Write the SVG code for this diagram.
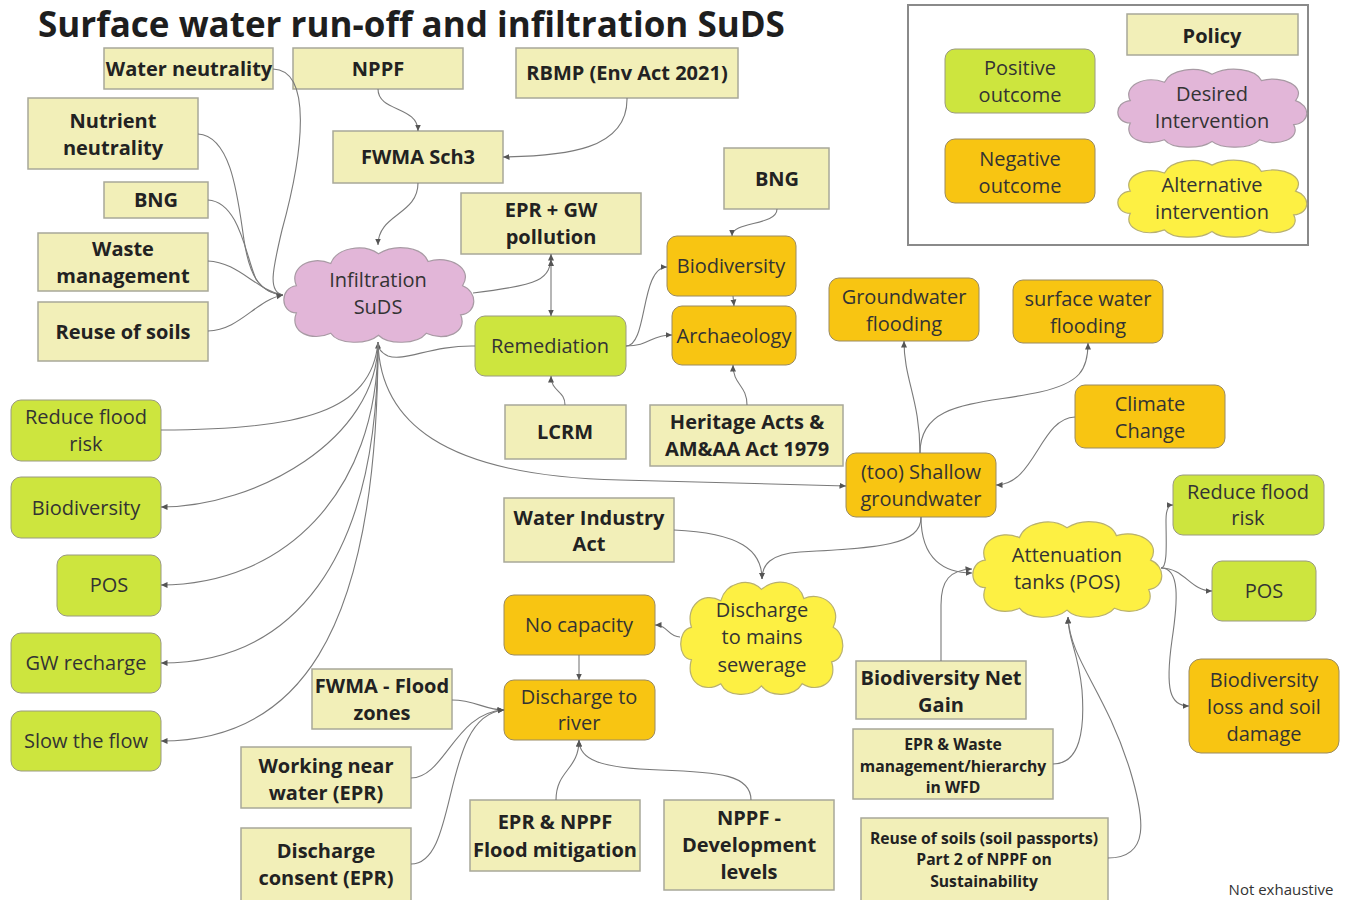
<svg xmlns="http://www.w3.org/2000/svg" xmlns:xlink="http://www.w3.org/1999/xlink" width="1348" height="900" viewBox="0 0 1348 900">
<style>
text{font-family:"Open Sans","Liberation Sans",sans-serif;text-anchor:middle;fill:#2b2b25}
.pol rect{fill:#f2efb8;stroke:#a8a899;stroke-width:1.5}
.pol text{font-weight:bold;font-size:20px;fill:#222}
.pol text.s{font-size:15.7px}
.pos rect{fill:#cde53e;stroke:#9a9a80;stroke-width:1}
.neg rect{fill:#f8c512;stroke:#9a8a60;stroke-width:1}
.pos text,.neg text,.cl text{font-size:20px;fill:#333}
.pink{fill:#e2b6d8;stroke:#a89aa4}
.yel{fill:#fdf043;stroke:#b8b070}
#edges path{fill:none;stroke:#7a7a7a;stroke-width:1.1}
.a{marker-end:url(#ah)}
</style>
<defs>
<marker id="ah" markerUnits="userSpaceOnUse" markerWidth="7" markerHeight="7" refX="6.5" refY="3.5" orient="auto"><path d="M0,0.5 L6.5,3.5 L0,6.5 z" fill="#555"/></marker>
<marker id="ahs" markerUnits="userSpaceOnUse" markerWidth="7" markerHeight="7" refX="0.5" refY="3.5" orient="auto"><path d="M6.5,0.5 L0,3.5 L6.5,6.5 z" fill="#555"/></marker>
<symbol id="cloud" viewBox="0 0 200 100" preserveAspectRatio="none" overflow="visible">
<path vector-effect="non-scaling-stroke" stroke-width="1.2" d="M14,70 C-3,70 -4,44 14,42 C6,24 28,10 50,19 C56,3 84,-2 100,9 C118,-2 146,2 152,17 C174,10 200,24 188,42 C204,48 204,70 186,72 C194,90 170,100 150,91 C140,103 110,103 100,93 C88,103 58,103 50,91 C30,100 6,90 14,70 Z"/>
</symbol>
</defs>
<rect width="1348" height="900" fill="#fff"/>
<text x="38" y="37" style="text-anchor:start;font-weight:bold;font-size:35px;fill:#1e1e1e">Surface water run-off and infiltration SuDS</text>

<g id="legend">
<rect x="908" y="5" width="400" height="240" fill="none" stroke="#8a8a8a" stroke-width="2"/>
<g class="pol"><rect x="1127" y="14" width="171" height="41"/><text x="1212" y="43">Policy</text></g>
<g class="pos"><rect x="945" y="49" width="150" height="64" rx="10"/><text x="1020" y="75">Positive</text><text x="1020" y="102">outcome</text></g>
<g class="neg"><rect x="945" y="139" width="150" height="64" rx="10"/><text x="1020" y="166">Negative</text><text x="1020" y="193">outcome</text></g>
<g class="cl"><use xlink:href="#cloud" x="1117" y="67" width="190" height="80" class="pink"/><text x="1212" y="101">Desired</text><text x="1212" y="128">Intervention</text></g>
<g class="cl"><use xlink:href="#cloud" x="1117" y="158" width="190" height="79" class="yel"/><text x="1212" y="192">Alternative</text><text x="1212" y="219">intervention</text></g>
</g>

<g id="n_water_neutrality" class="pol"><rect x="104" y="48" width="169" height="41"/><text x="189" y="76">Water neutrality</text></g>
<g id="n_nppf" class="pol"><rect x="293" y="48" width="170" height="41"/><text x="378" y="76">NPPF</text></g>
<g id="n_rbmp" class="pol"><rect x="516" y="48" width="222" height="50"/><text x="627" y="80">RBMP (Env Act 2021)</text></g>
<g id="n_nutrient" class="pol"><rect x="28" y="98" width="170" height="71"/><text x="113" y="128">Nutrient</text><text x="113" y="155">neutrality</text></g>
<g id="n_fwma_sch3" class="pol"><rect x="333" y="131" width="170" height="52"/><text x="418" y="164">FWMA Sch3</text></g>
<g id="n_bng1" class="pol"><rect x="104" y="182" width="104" height="36"/><text x="156" y="207">BNG</text></g>
<g id="n_waste" class="pol"><rect x="38" y="233" width="170" height="58"/><text x="123" y="256">Waste</text><text x="123" y="283">management</text></g>
<g id="n_reuse" class="pol"><rect x="38" y="302" width="170" height="59"/><text x="123" y="339">Reuse of soils</text></g>
<g id="n_infiltration" class="cl"><use xlink:href="#cloud" x="283" y="245" width="191" height="97" class="pink"/><text x="378" y="287">Infiltration</text><text x="378" y="314">SuDS</text></g>
<g id="n_epr_gw" class="pol"><rect x="461" y="193" width="180" height="61"/><text x="551" y="217">EPR + GW</text><text x="551" y="244">pollution</text></g>
<g id="n_bng2" class="pol"><rect x="724" y="148" width="105" height="61"/><text x="777" y="186">BNG</text></g>
<g id="n_biodiv_neg" class="neg"><rect x="667" y="236" width="129" height="60" rx="10"/><text x="731" y="273">Biodiversity</text></g>
<g id="n_archaeology" class="neg"><rect x="672" y="306" width="124" height="59" rx="10"/><text x="734" y="343">Archaeology</text></g>
<g id="n_remediation" class="pos"><rect x="475" y="316" width="151" height="60" rx="10"/><text x="550" y="353">Remediation</text></g>
<g id="n_lcrm" class="pol"><rect x="505" y="405" width="121" height="54"/><text x="565" y="439">LCRM</text></g>
<g id="n_heritage" class="pol"><rect x="650" y="405" width="193" height="61"/><text x="747" y="429">Heritage Acts &amp;</text><text x="747" y="456">AM&amp;AA Act 1979</text></g>
<g id="n_gw_flooding" class="neg"><rect x="829" y="278" width="150" height="63" rx="10"/><text x="904" y="304">Groundwater</text><text x="904" y="331">flooding</text></g>
<g id="n_sw_flooding" class="neg"><rect x="1013" y="280" width="150" height="63" rx="10"/><text x="1088" y="306">surface water</text><text x="1088" y="333">flooding</text></g>
<g id="n_climate" class="neg"><rect x="1075" y="385" width="150" height="63" rx="10"/><text x="1150" y="411">Climate</text><text x="1150" y="438">Change</text></g>
<g id="n_shallow" class="neg"><rect x="846" y="453" width="150" height="64" rx="10"/><text x="921" y="479">(too) Shallow</text><text x="921" y="506">groundwater</text></g>
<g id="n_reduce_r" class="pos"><rect x="1173" y="475" width="151" height="60" rx="10"/><text x="1248" y="499">Reduce flood</text><text x="1248" y="525">risk</text></g>
<g id="n_wia" class="pol"><rect x="504" y="498" width="170" height="64"/><text x="589" y="525">Water Industry</text><text x="589" y="551">Act</text></g>
<g id="n_mains" class="cl"><use xlink:href="#cloud" x="680" y="579" width="163" height="115" class="yel"/><text x="762" y="617">Discharge</text><text x="762" y="644">to mains</text><text x="762" y="672">sewerage</text></g>
<g id="n_nocap" class="neg"><rect x="504" y="595" width="151" height="60" rx="10"/><text x="579" y="632">No capacity</text></g>
<g id="n_river" class="neg"><rect x="504" y="680" width="151" height="60" rx="10"/><text x="579" y="704">Discharge to</text><text x="579" y="730">river</text></g>
<g id="n_atten" class="cl"><use xlink:href="#cloud" x="972" y="519" width="190" height="98" class="yel"/><text x="1067" y="562">Attenuation</text><text x="1067" y="589">tanks (POS)</text></g>
<g id="n_pos_r" class="pos"><rect x="1212" y="561" width="104" height="60" rx="10"/><text x="1264" y="598">POS</text></g>
<g id="n_bioloss" class="neg"><rect x="1189" y="659" width="150" height="94" rx="12"/><text x="1264" y="687">Biodiversity</text><text x="1264" y="714">loss and soil</text><text x="1264" y="741">damage</text></g>
<g id="n_bng_net" class="pol"><rect x="856" y="661" width="170" height="58"/><text x="941" y="685">Biodiversity Net</text><text x="941" y="712">Gain</text></g>
<g id="n_epr_waste" class="pol"><rect x="853" y="729" width="200" height="70"/><text class="s" x="953" y="750">EPR &amp; Waste</text><text class="s" x="953" y="772">management/hierarchy</text><text class="s" x="953" y="793">in WFD</text></g>
<g id="n_reuse_pass" class="pol"><rect x="861" y="818" width="247" height="86"/><text class="s" x="984" y="844">Reuse of soils (soil passports)</text><text class="s" x="984" y="865">Part 2 of NPPF on</text><text class="s" x="984" y="887">Sustainability</text></g>
<g id="n_fwma_flood" class="pol"><rect x="312" y="669" width="140" height="60"/><text x="382" y="693">FWMA - Flood</text><text x="382" y="720">zones</text></g>
<g id="n_working" class="pol"><rect x="241" y="747" width="170" height="61"/><text x="326" y="773">Working near</text><text x="326" y="800">water (EPR)</text></g>
<g id="n_consent" class="pol"><rect x="241" y="828" width="170" height="76"/><text x="326" y="858">Discharge</text><text x="326" y="885">consent (EPR)</text></g>
<g id="n_epr_nppf" class="pol"><rect x="470" y="800" width="170" height="71"/><text x="555" y="829">EPR &amp; NPPF</text><text x="555" y="857">Flood mitigation</text></g>
<g id="n_nppf_dev" class="pol"><rect x="664" y="800" width="170" height="90"/><text x="749" y="825">NPPF -</text><text x="749" y="852">Development</text><text x="749" y="879">levels</text></g>
<g id="n_reduce_l" class="pos"><rect x="11" y="400" width="150" height="61" rx="10"/><text x="86" y="424">Reduce flood</text><text x="86" y="451">risk</text></g>
<g id="n_biodiv_l" class="pos"><rect x="11" y="477" width="150" height="61" rx="10"/><text x="86" y="515">Biodiversity</text></g>
<g id="n_pos_l" class="pos"><rect x="57" y="555" width="104" height="61" rx="10"/><text x="109" y="592">POS</text></g>
<g id="n_gw_recharge" class="pos"><rect x="11" y="633" width="150" height="60" rx="10"/><text x="86" y="670">GW recharge</text></g>
<g id="n_slow" class="pos"><rect x="11" y="711" width="150" height="60" rx="10"/><text x="86" y="748">Slow the flow</text></g>

<text x="1281" y="895" style="font-size:15px;fill:#333">Not exhaustive</text>

<g id="edges">
<path d="M273,69 C312,70 304,150 282,230 C272,272 268,292 283,295"/>
<path d="M198,134 C232,136 238,200 244,240 C250,280 262,293 283,295"/>
<path d="M208,200 C240,202 246,258 256,279 C263,290 272,294 283,295"/>
<path d="M208,261 C238,262 256,290 283,295"/>
<path class="a" d="M208,331 C240,330 256,300 283,295"/>
<path class="a" d="M378,89 C378,112 418,106 418,131"/>
<path class="a" d="M627,98 C628,150 565,156 503,157"/>
<path class="a" d="M418,183 C418,215 378,214 378,245"/>
<path class="a" d="M473,293 C540,285 551,280 551,254"/>
<path class="a" d="M551,260 L551,316" style="marker-start:url(#ahs)"/>
<path class="a" d="M475,346 C432,345 405,362 388,356 C380,352 378,348 378,342"/>
<path class="a" d="M626,346 C648,346 640,267 667,267"/>
<path class="a" d="M626,346 C650,346 650,335 672,335"/>
<path class="a" d="M777,209 C777,226 732,221 732,236"/>
<path class="a" d="M733,296 L734,306"/>
<path class="a" d="M565,405 C565,390 551,392 551,376"/>
<path class="a" d="M747,405 C747,385 733,385 733,365"/>
<path class="a" d="M378,342 C380,420 440,476 620,480 L846,486"/>
<path d="M161,430 C300,430 372,412 378,342"/>
<path class="a" d="M378,342 C378,440 255,507 161,507"/>
<path class="a" d="M378,342 C378,495 282,585 161,585"/>
<path class="a" d="M378,342 C378,565 290,663 161,663"/>
<path class="a" d="M378,342 C378,645 292,741 161,741"/>
<path class="a" d="M1075,417 C1040,418 1035,485 996,485"/>
<path class="a" d="M920,453 C920,400 904,380 904,341"/>
<path class="a" d="M920,453 C920,400 980,405 1040,392 C1080,383 1088,370 1088,343"/>
<path class="a" d="M921,517 C921,545 880,548 800,552 C770,554 762,565 762,579"/>
<path class="a" d="M674,530 C740,533 762,550 762,579"/>
<path class="a" d="M921,517 C921,560 945,573 972,573"/>
<path class="a" d="M941,661 L941,605 C941,580 950,570 972,569"/>
<path class="a" d="M1053,764 C1080,764 1085,730 1082,690 C1078,650 1068,640 1068,617"/>
<path class="a" d="M1108,858 C1150,858 1145,820 1130,770 C1105,690 1070,660 1068,617"/>
<path class="a" d="M1161,568 C1168,568 1166,540 1166,520 C1166,510 1168,505 1173,505"/>
<path class="a" d="M1161,568 C1185,568 1190,591 1212,591"/>
<path class="a" d="M1161,568 C1180,568 1178,600 1172,640 C1165,690 1170,706 1189,706"/>
<path class="a" d="M680,637 C668,637 668,625 655,625"/>
<path class="a" d="M579,655 L579,680"/>
<path class="a" d="M452,700 C475,700 485,710 504,710"/>
<path class="a" d="M411,778 C445,778 455,712 504,710"/>
<path class="a" d="M411,864 C460,864 440,715 504,710"/>
<path class="a" d="M556,800 C556,770 579,770 579,740"/>
<path class="a" d="M751,800 C751,775 720,772 660,770 C600,768 579,760 579,740"/>
</g>
</svg>
